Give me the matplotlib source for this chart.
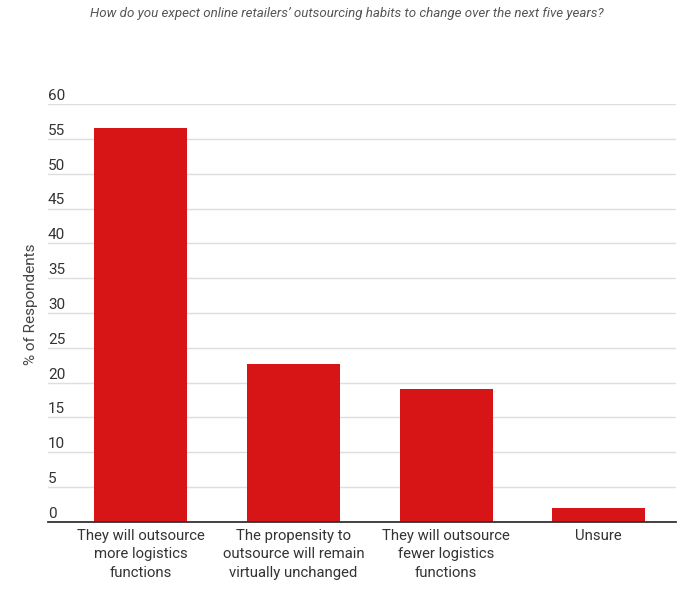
import matplotlib
matplotlib.use("Agg")
import matplotlib.pyplot as plt
from matplotlib.transforms import blended_transform_factory

plt.rcParams['font.family'] = ['Roboto', 'DejaVu Sans']

title = "How do you expect online retailers\u2019 outsourcing habits to change over the next five years?"
categories = [
    "They will outsource\nmore logistics\nfunctions",
    "The propensity to\noutsource will remain\nvirtually unchanged",
    "They will outsource\nfewer logistics\nfunctions",
    "Unsure",
]
values = [56.6, 22.7, 19.1, 2.0]
yticks = [0, 5, 10, 15, 20, 25, 30, 35, 40, 45, 50, 55, 60]
ylabel = "% of Respondents"

fig = plt.figure(figsize=(6.9, 5.91), dpi=100)
ax = fig.add_axes([0.0696, 0.1168, 0.910, 0.7072])

x = list(range(len(categories)))
ax.bar(x, values, width=0.61, color="#d71516", zorder=3)

ax.set_ylim(0, 60)
ax.set_xlim(-0.607, 3.505)
ax.set_yticks(yticks)
ax.yaxis.grid(True, color="#dedede", linewidth=1, zorder=0)
ax.tick_params(axis='y', length=0, labelleft=False)
trans = blended_transform_factory(ax.transAxes, ax.transData)
for t in yticks:
    ax.text(0.0, t + 0.15, str(t), transform=trans, ha='left', va='bottom',
            fontsize=11, color="#333333")

ax.set_xticks(x)
ax.set_xticklabels(categories, fontsize=10.7, color="#333333", linespacing=1.4)
ax.tick_params(axis='x', length=0, pad=5)

for s in ['top', 'right', 'left']:
    ax.spines[s].set_visible(False)
ax.spines['bottom'].set_color("#333333")
ax.spines['bottom'].set_linewidth(1.3)
ax.spines['bottom'].set_zorder(4)

fig.text(0.045, 0.485, ylabel, rotation=90, ha='center', va='center',
         fontsize=11, color="#444444")
fig.text(0.503, 0.978, title, ha='center', va='center', fontsize=9.6,
         style='italic', color="#555555")

fig.savefig("out.png", dpi=100, facecolor="white")
